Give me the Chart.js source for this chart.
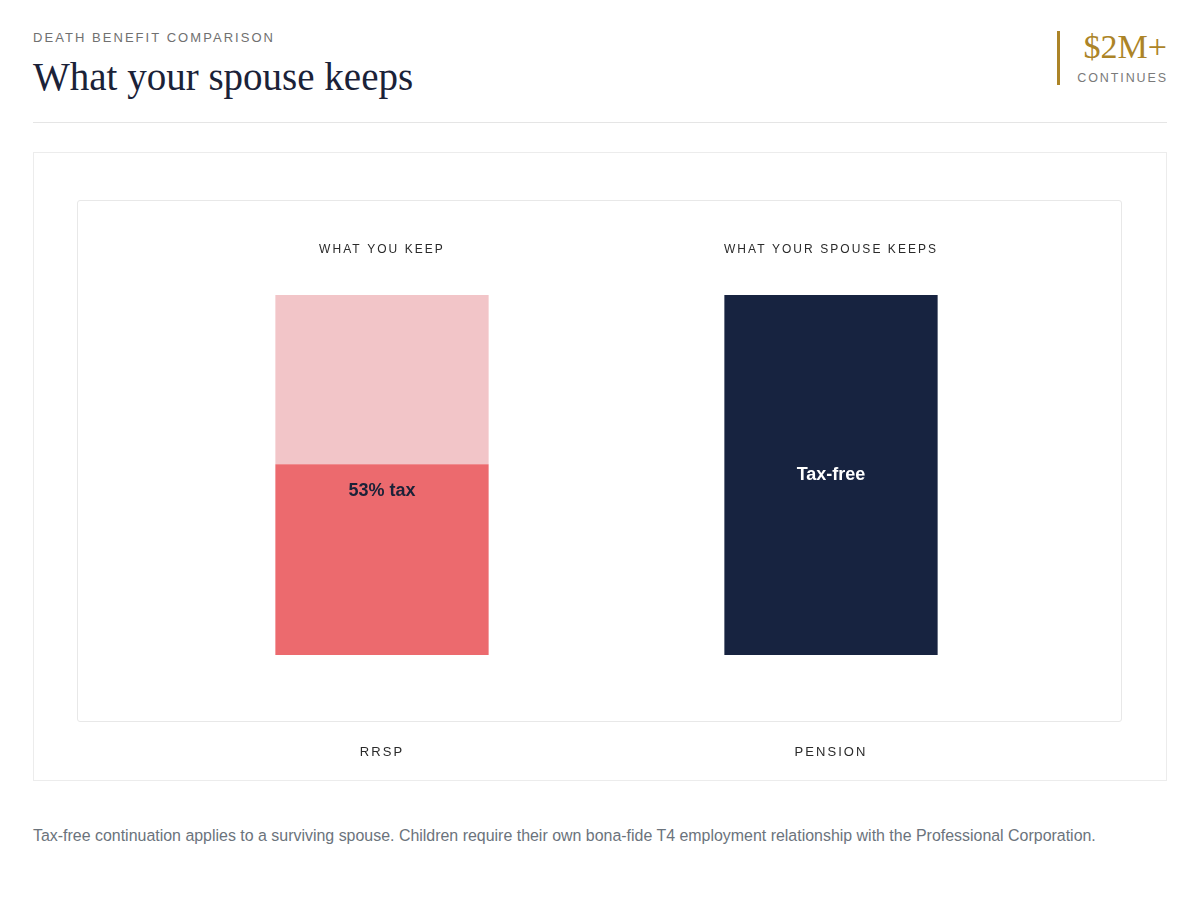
<!DOCTYPE html>
<html>
<head>
<meta charset="utf-8">
<script src="https://cdn.jsdelivr.net/npm/chart.js@4.4.1/dist/chart.umd.min.js"></script>
<style>
  body { margin:0; background:#fff; width:1200px; height:898px; position:relative; overflow:hidden;
         font-family:'Liberation Sans', Arial, sans-serif; }
  .abs { position:absolute; line-height:1; white-space:nowrap; }
</style>
</head>
<body>
<div class="abs" style="left:33px;top:30.7px;font-size:13px;letter-spacing:2.05px;color:#707070">DEATH BENEFIT COMPARISON</div>
<div class="abs" style="left:33px;top:57.3px;font-family:'Liberation Serif',serif;font-size:39px;color:#1b2238">What your spouse keeps</div>
<div class="abs" style="left:1057px;top:31px;width:3px;height:54px;background:#ac8427"></div>
<div class="abs" style="right:33px;top:29.5px;font-family:'Liberation Serif',serif;font-size:34px;color:#ac8427">$2M+</div>
<div class="abs" style="right:32px;top:72px;font-size:12.5px;letter-spacing:1.9px;color:#7a7a7a">CONTINUES</div>
<div class="abs" style="left:33px;top:122px;width:1134px;height:1px;background:#e5e5e5"></div>
<div class="abs" style="left:33px;top:152px;width:1132px;height:627px;border:1px solid #ececec;"></div>
<div class="abs" style="left:77px;top:200px;width:1043px;height:520px;border:1px solid #e8e8e8;border-radius:3px"></div>
<canvas id="c" width="1132" height="627" style="position:absolute;left:34px;top:153px;width:1132px;height:627px"></canvas>
<div class="abs" style="left:33px;top:827.5px;font-size:15.95px;color:#6b737c">Tax-free continuation applies to a surviving spouse. Children require their own bona-fide T4 employment relationship with the Professional Corporation.</div>

<script>
// ---- data ----
const categories = ['RRSP', 'PENSION'];
const columnHeaders = ['WHAT YOU KEEP', 'WHAT YOUR SPOUSE KEEPS'];
const taxed   = [53, null];   // lost to tax on the RRSP
const kept    = [47, null];   // what you keep of the RRSP
const taxFree = [null, 100];  // pension continues tax-free
const yMax = 100;

const letterSpacingPlugin = {
  id: 'letterSpacing',
  beforeDraw(chart) { chart.ctx.letterSpacing = '2.05px'; },
  beforeDatasetsDraw(chart) { chart.ctx.letterSpacing = '0px'; }
};

const inBarLabels = {
  id: 'inBarLabels',
  afterDatasetsDraw(chart) {
    const ctx = chart.ctx;
    ctx.save();
    ctx.letterSpacing = '0px';
    ctx.font = 'bold 18px "Liberation Sans", Arial, sans-serif';
    ctx.textAlign = 'center';
    ctx.textBaseline = 'middle';
    chart.data.datasets.forEach((ds, di) => {
      if (!ds.inLabel) return;
      const meta = chart.getDatasetMeta(di);
      meta.data.forEach((bar, i) => {
        if (ds.data[i] == null) return;
        const p = bar.getProps(['x', 'y', 'base'], true);
        const top = Math.min(p.y, p.base), bottom = Math.max(p.y, p.base);
        const y = ds.inLabelPos === 'top' ? top + 27 : (top + bottom) / 2;
        ctx.fillStyle = ds.inLabelColor;
        ctx.fillText(ds.inLabel, p.x, y);
      });
    });
    ctx.restore();
  }
};

new Chart(document.getElementById('c'), {
  type: 'bar',
  data: {
    labels: categories,
    datasets: [
      { label: 'Tax', data: taxed, backgroundColor: '#ec6a6e', inLabel: '53% tax', inLabelColor: '#1b2238', inLabelPos: 'top' },
      { label: 'Kept', data: kept, backgroundColor: '#f2c5c8' },
      { label: 'Tax-free', data: taxFree, backgroundColor: '#172340', inLabel: 'Tax-free', inLabelColor: '#ffffff', inLabelPos: 'center' }
    ]
  },
  options: {
    responsive: false,
    animation: false,
    events: [],
    categoryPercentage: 0.5,
    barPercentage: 0.95,
    layout: { padding: { left: 123.5, right: 110.5, top: 52, bottom: 21 } },
    plugins: { legend: { display: false }, tooltip: { enabled: false } },
    scales: {
      x: {
        stacked: true,
        offset: true,
        grid: { display: false, drawTicks: false },
        border: { display: false },
        ticks: { padding: 89.2, color: '#2a2a2a', font: { family: '"Liberation Sans", Arial, sans-serif', size: 13 } },
        afterFit: s => { s.height = 104; }
      },
      x2: {
        type: 'category',
        position: 'top',
        labels: columnHeaders,
        offset: true,
        grid: { display: false, drawTicks: false },
        border: { display: false },
        ticks: { padding: 37.8, color: '#2a2a2a', font: { family: '"Liberation Sans", Arial, sans-serif', size: 12 } }
      },
      y: {
        stacked: true,
        display: false,
        min: 0,
        max: yMax
      }
    }
  },
  plugins: [letterSpacingPlugin, inBarLabels]
});
</script>
</body>
</html>
